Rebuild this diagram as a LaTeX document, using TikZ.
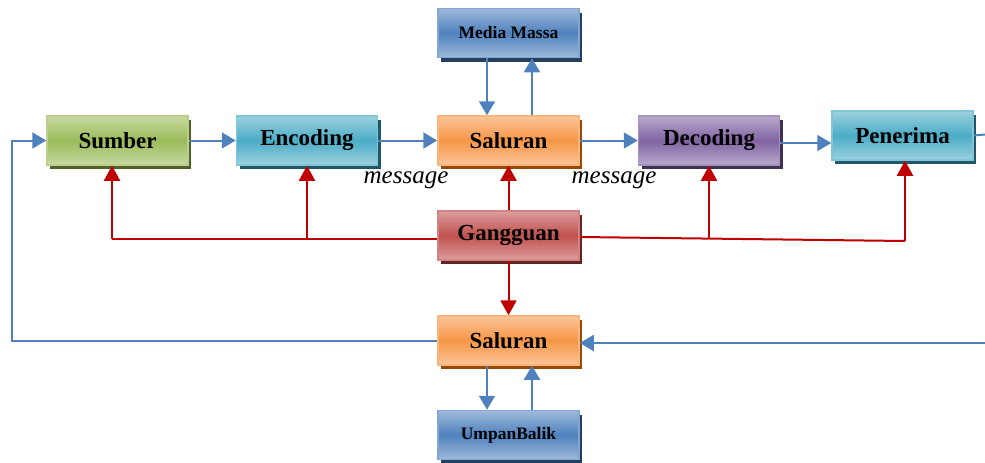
\documentclass[tikz,border=0pt]{standalone}
\usepackage{fontspec}
\setmainfont{Liberation Serif}
\usetikzlibrary{arrows.meta,shadows,calc}
\definecolor{sumberc}{HTML}{9BBB59}\definecolor{sumbers}{HTML}{4F6228}
\definecolor{encc}{HTML}{4BACC6}\definecolor{encs}{HTML}{215867}
\definecolor{salc}{HTML}{F79646}\definecolor{sals}{HTML}{984807}
\definecolor{decc}{HTML}{8064A2}\definecolor{decs}{HTML}{3F3151}
\definecolor{mmc}{HTML}{4F81BD}\definecolor{mms}{HTML}{243F60}
\definecolor{gangc}{HTML}{C0504D}\definecolor{gangs}{HTML}{632523}
\definecolor{blueline}{HTML}{4F81BD}\definecolor{redline}{HTML}{C00000}
\tikzset{
  boxbase/.style={minimum width=141pt, minimum height=49pt, inner sep=0pt, line width=1.5pt, font=\bfseries\fontsize{23}{27}\selectfont},
  cbox/.style 2 args={boxbase, draw=#1!70!white, top color=#1!55!white, bottom color=#1!55!white, middle color=#1,
     general shadow={fill=#2, shadow xshift=3pt, shadow yshift=-4pt}},
  smallfont/.style={font=\bfseries\fontsize{17.5}{21}\selectfont},
  bline/.style={draw=blueline, line width=2pt},
  barrow/.style={bline, -{Triangle[length=14pt,width=16pt]}},
  rline/.style={draw=redline, line width=2pt},
  rarrow/.style={rline, -{Triangle[length=15pt,width=16pt]}},
  msg/.style={font=\itshape\fontsize{25}{30}\selectfont},
}
\begin{document}
\begin{tikzpicture}[x=1pt,y=-1pt]
\useasboundingbox (0,0) rectangle (985,463);
% nodes
\node[cbox={sumberc}{sumbers}] (sumber) at (117.5,140.5) {Sumber};
\node[cbox={encc}{encs}] (enc) at (307,140.5) {Encoding};
\node[cbox={salc}{sals}] (sal) at (508.5,140.5) {Saluran};
\node[cbox={decc}{decs}] (dec) at (709,140.5) {Decoding};
\node[cbox={encc}{encs}] (pen) at (902.5,135.5) {Penerima};
\node[cbox={mmc}{mms}, smallfont] (mm) at (508.5,33) {Media Massa};
\node[cbox={gangc}{gangs}] (gang) at (508.5,235.5) {Gangguan};
\node[cbox={salc}{sals}] (sal2) at (508.5,340.5) {Saluran};
\node[cbox={mmc}{mms}, smallfont] (ub) at (508.5,435) {UmpanBalik};
\node[msg] (m1) at (406,180) {message};
\node[msg] (m2) at (614,180) {message};
% coordinates
\coordinate (rt) at (985,134.5);
\coordinate (rb) at (985,343);
\coordinate (lc) at (12,240);
\coordinate (gl) at (112,239);
\coordinate (gr) at (905,241);
\coordinate (dj) at (709,238.6);
\coordinate (dp) at ([yshift=-2.5pt]dec.east);
% blue main flow
\draw[barrow] (sumber.east) -- (enc.west);
\draw[barrow] (enc.east) -- (sal.west);
\draw[barrow] (sal.east) -- (dec.west);
\draw[barrow] (dp) -- (dp -| pen.west);
\draw[bline] (pen.east) -- (rt);
\draw[barrow] (rb) -- (rb -| sal2.east);
\draw[barrow] (sal2.west) -| (lc) |- (sumber.west);
% media massa
\draw[barrow] ([xshift=-21.5pt]mm.south) -- ([xshift=-21.5pt]sal.north);
\draw[barrow] ([xshift=23.5pt]sal.north) -- ([xshift=23.5pt]mm.south);
% umpan balik
\draw[barrow] ([xshift=-21.5pt]sal2.south) -- ([xshift=-21.5pt]ub.north);
\draw[barrow] ([xshift=23.5pt]ub.north) -- ([xshift=23.5pt]sal2.south);
% red noise
\draw[rarrow] (gang.north) -- (sal.south);
\draw[rarrow] (gang.south) -- (sal2.north);
\draw[rline] (gang.west |- gl) -- (gl);
\draw[rarrow] (gl) -- (gl |- sumber.south);
\draw[rarrow] (enc.south |- gl) -- (enc.south);
\draw[rline] ([yshift=-1.5pt]gang.east) -- (gr);
\draw[rarrow] (dj) -- (dec.south);
\draw[rarrow] (gr) -- (gr |- pen.south);
\end{tikzpicture}
\end{document}
